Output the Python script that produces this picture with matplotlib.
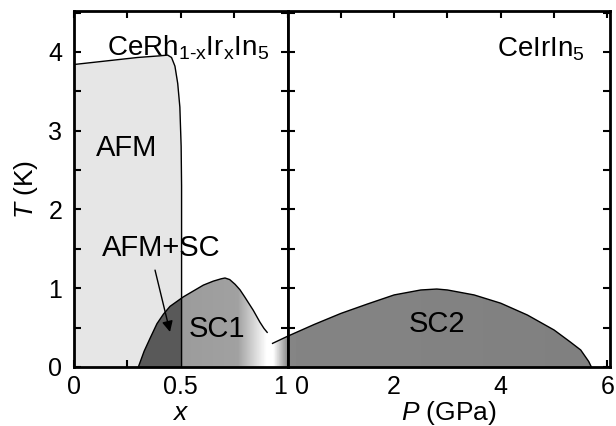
import matplotlib
matplotlib.use('Agg')
import matplotlib.pyplot as plt
import matplotlib.transforms as mtransforms
from matplotlib.patches import Polygon
import numpy as np

plt.rcParams['font.family'] = ['Liberation Sans', 'DejaVu Sans']
plt.rcParams['mathtext.fontset'] = 'custom'
plt.rcParams['mathtext.rm'] = 'Liberation Sans'
plt.rcParams['mathtext.it'] = 'Liberation Sans:italic'

# AFM boundary of CeRh1-xIrxIn5 (x, T in K)
afm_x = [0, 0.1, 0.2, 0.3, 0.4, 0.44, 0.458, 0.474, 0.487, 0.497, 0.503, 0.505, 0.505]
afm_T = [3.84, 3.87, 3.9, 3.93, 3.95, 3.96, 3.93, 3.82, 3.6, 3.3, 2.8, 2.3, 0]

# SC1 dome (x, T)
sc1_x = [0.303, 0.33, 0.357, 0.39, 0.42, 0.451, 0.513, 0.607, 0.653, 0.69, 0.708,
         0.73, 0.755, 0.778, 0.80, 0.84, 0.871, 0.89, 0.905]
sc1_T = [0, 0.2, 0.36, 0.55, 0.67, 0.77, 0.89, 1.04, 1.09, 1.12, 1.13,
         1.11, 1.05, 0.98, 0.89, 0.72, 0.57, 0.49, 0.44]

# SC2 dome of CeIrIn5 (P in GPa, T)
sc2_P = [-0.28, 0, 0.5, 1, 1.5, 2, 2.5, 2.8, 3, 3.5, 4, 4.5, 5, 5.3, 5.5, 5.65, 5.7]
sc2_T = [0.30, 0.39, 0.54, 0.68, 0.80, 0.915, 0.978, 0.99, 0.978, 0.915, 0.81,
         0.66, 0.47, 0.32, 0.216, 0.07, 0]

T_ticks = [0, 0.5, 1, 1.5, 2, 2.5, 3, 3.5, 4, 4.5]
T_labels = ['0', '', '1', '', '2', '', '3', '', '4', '']
x_ticks = [0, 0.25, 0.5, 0.75, 1]
x_labels = ['0', '', '0.5', '', '1']
P_ticks = [0, 1, 2, 3, 4, 5, 6]
P_labels = ['0', '', '2', '', '4', '', '6']


def gradient_fill(ax, xs, Ts, xstops, gstops, trans=None, z=2):
    if trans is None:
        trans = ax.transData
    verts = np.column_stack([np.r_[xs[0], xs, xs[-1]], np.r_[0, Ts, 0]])
    poly = Polygon(verts, closed=True, transform=trans)
    xg = np.linspace(min(xs), max(xs), 800)
    g = np.interp(xg, xstops, gstops)
    im = ax.imshow(g[np.newaxis, :], cmap='gray', vmin=0, vmax=1,
                   extent=[xg[0], xg[-1], 0, max(Ts)], aspect='auto',
                   origin='lower', interpolation='nearest', zorder=z,
                   transform=trans)
    im.set_clip_path(poly)
    return im


fig = plt.figure(figsize=(6.16, 4.26), dpi=100)
W, H = 616, 426
l, m, r, b, t = 73.5 / W, 287.5 / W, 609.5 / W, 1 - 367 / H, 1 - 11 / H
axL = fig.add_axes([l, b, m - l, t - b])
axR = fig.add_axes([m, b, r - m, t - b])

# left panel
axL.fill_between(afm_x, afm_T, 0, color='#e6e6e6', lw=0, zorder=1)
gradient_fill(axL, sc1_x, sc1_T, [0.3, 0.5049, 0.5051, 0.77, 0.905],
              [0.35, 0.35, 0.61, 0.63, 1.0])
axL.plot(sc1_x, sc1_T, color='black', lw=1.0, zorder=3)
axL.plot(afm_x, afm_T, color='black', lw=1.0, zorder=4)

# right panel (SC2 fades into the gap)
sc2_stops = [-0.28, 0.0, 6.0]
sc2_grey = [1.0, 0.52, 0.5]
gradient_fill(axR, sc2_P, sc2_T, sc2_stops, sc2_grey)
gradient_fill(axL, sc2_P, sc2_T, sc2_stops, sc2_grey, trans=axR.transData)
axR.plot(sc2_P, sc2_T, color='black', lw=1.0, zorder=3, clip_on=False)

fs_tick = 18
for ax in (axL, axR):
    ax.set_ylim(0, 4.52)
    ax.set_yticks(T_ticks)
    for s in ax.spines.values():
        s.set_linewidth(2)
    ax.tick_params(which='both', direction='in', top=True, right=True,
                   length=5, width=1.5, labelsize=fs_tick, pad=6)

axL.set_xlim(0, 1)
axL.set_xticks(x_ticks)
axL.set_xticklabels(x_labels)
axL.set_yticklabels(T_labels)
axL.tick_params(axis='y', pad=8)
axR.set_xlim(0, 6.04)
axR.set_xticks(P_ticks)
axR.set_xticklabels(P_labels)
axR.tick_params(labelleft=False)

# nudge the labels that meet at the panel join
lbl1 = axL.get_xticklabels()[4]
lbl1.set_transform(lbl1.get_transform() + mtransforms.ScaledTranslation(-7 / 100, 0, fig.dpi_scale_trans))
lbl0 = axR.get_xticklabels()[0]
lbl0.set_transform(lbl0.get_transform() + mtransforms.ScaledTranslation(15 / 100, 0, fig.dpi_scale_trans))

axL.set_xlabel('$x$', fontsize=19, labelpad=1)
axR.set_xlabel('$P$ (GPa)', fontsize=19, labelpad=0)
axL.set_ylabel('$T$ (K)', fontsize=19, labelpad=6)

axL.text(0.157, 3.96, r'CeRh$_{\mathrm{1\text{-}x}}$Ir$_{\mathrm{x}}$In$_5$', fontsize=20,
         ha='left', va='baseline', zorder=5)
axR.text(3.925, 3.94, r'CeIrIn$_5$', fontsize=20, ha='left', va='baseline', zorder=5)
axL.text(0.25, 2.78, 'AFM', fontsize=21, ha='center', va='center', zorder=5)
axL.text(0.409, 1.51, 'AFM+SC', fontsize=21, ha='center', va='center', zorder=5)
axL.text(0.67, 0.48, 'SC1', fontsize=21, ha='center', va='center', zorder=5)
axR.text(2.8, 0.55, 'SC2', fontsize=21, ha='center', va='center', zorder=5)
axL.annotate('', xy=(0.451, 0.445), xytext=(0.381, 1.23),
             arrowprops=dict(arrowstyle='-|>', color='black', lw=1.0,
                             mutation_scale=16, shrinkA=0, shrinkB=0), zorder=6)

fig.savefig('out.png', dpi=100)
